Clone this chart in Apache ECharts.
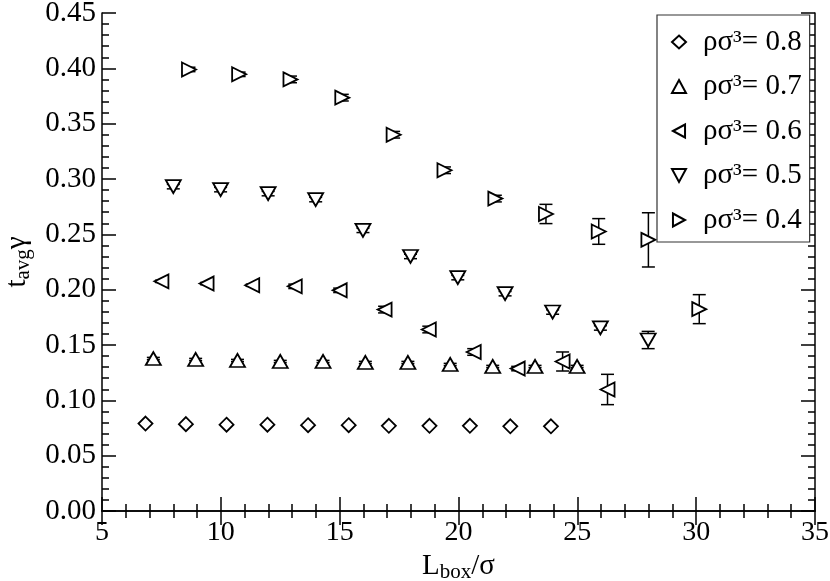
<!DOCTYPE html>
<html>
<head>
<meta charset="utf-8">
<script src="https://cdn.jsdelivr.net/npm/echarts@6/dist/echarts.min.js"></script>
<style>
  html, body { margin: 0; padding: 0; background: #fff; }
  #chart { width: 830px; height: 581px; }
</style>
</head>
<body>
<div id="chart"></div>
<script>
// axis ranges
const xMin = 5, xMax = 35, xStep = 5;
const yMin = 0, yMax = 0.45, yStep = 0.05;

// rho sigma^3 = 0.8
const x08 = [6.83, 8.53, 10.24, 11.96, 13.67, 15.38, 17.07, 18.78, 20.48, 22.18, 23.89];
const y08 = [0.079, 0.0785, 0.078, 0.078, 0.0775, 0.0775, 0.077, 0.077, 0.077, 0.0765, 0.0765];
const e08 = [0, 0, 0, 0, 0, 0, 0, 0, 0, 0, 0];

// 0.7
const x07 = [7.16, 8.94, 10.70, 12.50, 14.30, 16.08, 17.87, 19.65, 21.44, 23.22, 24.99];
const y07 = [0.1378, 0.1369, 0.136, 0.1351, 0.1351, 0.1342, 0.1342, 0.1324, 0.1306, 0.1306, 0.1306];
const e07 = [0.001, 0.001, 0.001, 0.001, 0.001, 0.001, 0.001, 0.001, 0.001, 0.001, 0.001];

// 0.6
const x06 = [7.50, 9.40, 11.32, 13.11, 15.00, 16.89, 18.75, 20.64, 22.49, 24.38, 26.27];
const y06 = [0.2075, 0.2055, 0.204, 0.203, 0.1994, 0.182, 0.164, 0.1437, 0.1287, 0.1351, 0.1098];
const e06 = [0.001, 0.001, 0.001, 0.002, 0.002, 0.003, 0.003, 0.003, 0.002, 0.0086, 0.0137];

// 0.5
const x05 = [8.00, 9.99, 11.99, 13.99, 15.98, 17.98, 19.97, 21.96, 23.96, 25.97, 27.98];
const y05 = [0.2931, 0.2904, 0.2868, 0.2814, 0.2536, 0.230, 0.2109, 0.1964, 0.1798, 0.1654, 0.1545];
const e05 = [0.002, 0.002, 0.002, 0.002, 0.002, 0.002, 0.002, 0.002, 0.002, 0.002, 0.0078];

// 0.4
const x04 = [8.66, 10.77, 12.93, 15.11, 17.27, 19.41, 21.55, 23.68, 25.90, 27.99, 30.13];
const y04 = [0.399, 0.3946, 0.390, 0.3735, 0.340, 0.3079, 0.2823, 0.2684, 0.2526, 0.245, 0.1824];
const e04 = [0.002, 0.002, 0.003, 0.003, 0.003, 0.003, 0.003, 0.0087, 0.0116, 0.0245, 0.0131];

const serif = 'Liberation Serif';

// open marker shapes (xmgrace style)
const triUp = 'path://M7,0 L14,13 L0,13 Z';
const triDown = 'path://M0,0 L14,0 L7,13 Z';
const triLeft = 'path://M0,7 L13,0 L13,14 Z';
const triRight = 'path://M0,0 L13,7 L0,14 Z';

const groups = [
  { name: '0.8', xs: x08, ys: y08, es: e08, symbol: 'diamond', size: [14, 14] },
  { name: '0.7', xs: x07, ys: y07, es: e07, symbol: triUp, size: [15, 13] },
  { name: '0.6', xs: x06, ys: y06, es: e06, symbol: triLeft, size: [14, 14] },
  { name: '0.5', xs: x05, ys: y05, es: e05, symbol: triDown, size: [15, 13] },
  { name: '0.4', xs: x04, ys: y04, es: e04, symbol: triRight, size: [14, 14] }
];

function renderErr(params, api) {
  const x = api.value(0), y = api.value(1), e = api.value(2);
  if (!e) return null;
  const top = api.coord([x, y + e]);
  const bot = api.coord([x, y - e]);
  const hw = 6.5;
  const style = { stroke: '#000', lineWidth: 1.5 };
  return {
    type: 'group',
    children: [
      { type: 'line', shape: { x1: top[0], y1: top[1], x2: bot[0], y2: bot[1] }, style },
      { type: 'line', shape: { x1: top[0] - hw, y1: top[1], x2: top[0] + hw, y2: top[1] }, style },
      { type: 'line', shape: { x1: bot[0] - hw, y1: bot[1], x2: bot[0] + hw, y2: bot[1] }, style }
    ]
  };
}

const series = [];
groups.forEach(g => {
  series.push({
    name: 'err' + g.name,
    type: 'custom',
    renderItem: renderErr,
    encode: { x: 0, y: 1 },
    data: g.xs.map((x, i) => [x, g.ys[i], g.es[i]]),
    z: 2,
    silent: true
  });
  series.push({
    name: g.name,
    type: 'scatter',
    symbol: g.symbol,
    symbolSize: g.size,
    itemStyle: { color: '#fff', borderColor: '#000', borderWidth: 1.8, opacity: 1 },
    data: g.xs.map((x, i) => [x, g.ys[i]]),
    z: 3
  });
});

const axisLine = { show: true, lineStyle: { color: '#000', width: 1.5 } };
const axisTick = { show: true, inside: true, length: 14, lineStyle: { color: '#000', width: 1.5 } };
const minorTick = { show: true, splitNumber: 5, length: 7, lineStyle: { color: '#000', width: 1.5 } };

const chart = echarts.init(document.getElementById('chart'));
chart.setOption({
  animation: false,
  backgroundColor: '#fff',
  grid: { left: 102, right: 15, top: 13, bottom: 70, containLabel: false, outerBoundsMode: 'none' },
  legend: {
    data: groups.map(g => g.name),
    orient: 'vertical',
    left: 657,
    top: 15,
    padding: [12, 8, 7, 14],
    itemGap: 14.5,
    itemWidth: 14,
    itemHeight: 13,
    selectedMode: false,
    backgroundColor: '#fff',
    borderColor: '#333',
    borderWidth: 1.2,
    borderRadius: 0,
    formatter: name => 'ρσ³= ' + name,
    textStyle: {
      fontFamily: serif,
      fontSize: 29,
      lineHeight: 30,
      color: '#000',
      padding: [0, 0, 0, 12]
    }
  },
  xAxis: [
    {
      type: 'value', min: xMin, max: xMax, interval: xStep,
      axisLine, axisTick, minorTick,
      splitLine: { show: false },
      axisLabel: { color: '#000', fontFamily: serif, fontSize: 28, margin: 8 },
      name: 'L{sub|box}/σ',
      nameLocation: 'middle',
      nameGap: 38,
      nameTextStyle: {
        fontFamily: serif, fontSize: 29, color: '#000',
        rich: { sub: { fontFamily: serif, fontSize: 21, color: '#000', padding: [12, 0, 0, 0] } }
      }
    },
    {
      type: 'value', position: 'top', min: xMin, max: xMax, interval: xStep,
      axisLine, axisTick, minorTick,
      splitLine: { show: false },
      axisLabel: { show: false }
    }
  ],
  yAxis: [
    {
      type: 'value', min: yMin, max: yMax, interval: yStep,
      axisLine, axisTick, minorTick,
      splitLine: { show: false },
      axisLabel: { color: '#000', fontFamily: serif, fontSize: 29, margin: 6, formatter: v => v.toFixed(2) },
      name: 't{sub|avg}γ',
      nameLocation: 'middle',
      nameGap: 66,
      nameRotate: 90,
      nameTextStyle: {
        fontFamily: serif, fontSize: 29, color: '#000',
        rich: { sub: { fontFamily: serif, fontSize: 21, color: '#000', padding: [12, 0, 0, 0] } }
      }
    },
    {
      type: 'value', position: 'right', min: yMin, max: yMax, interval: yStep,
      axisLine, axisTick, minorTick,
      splitLine: { show: false },
      axisLabel: { show: false }
    }
  ],
  series
});
</script>
</body>
</html>
